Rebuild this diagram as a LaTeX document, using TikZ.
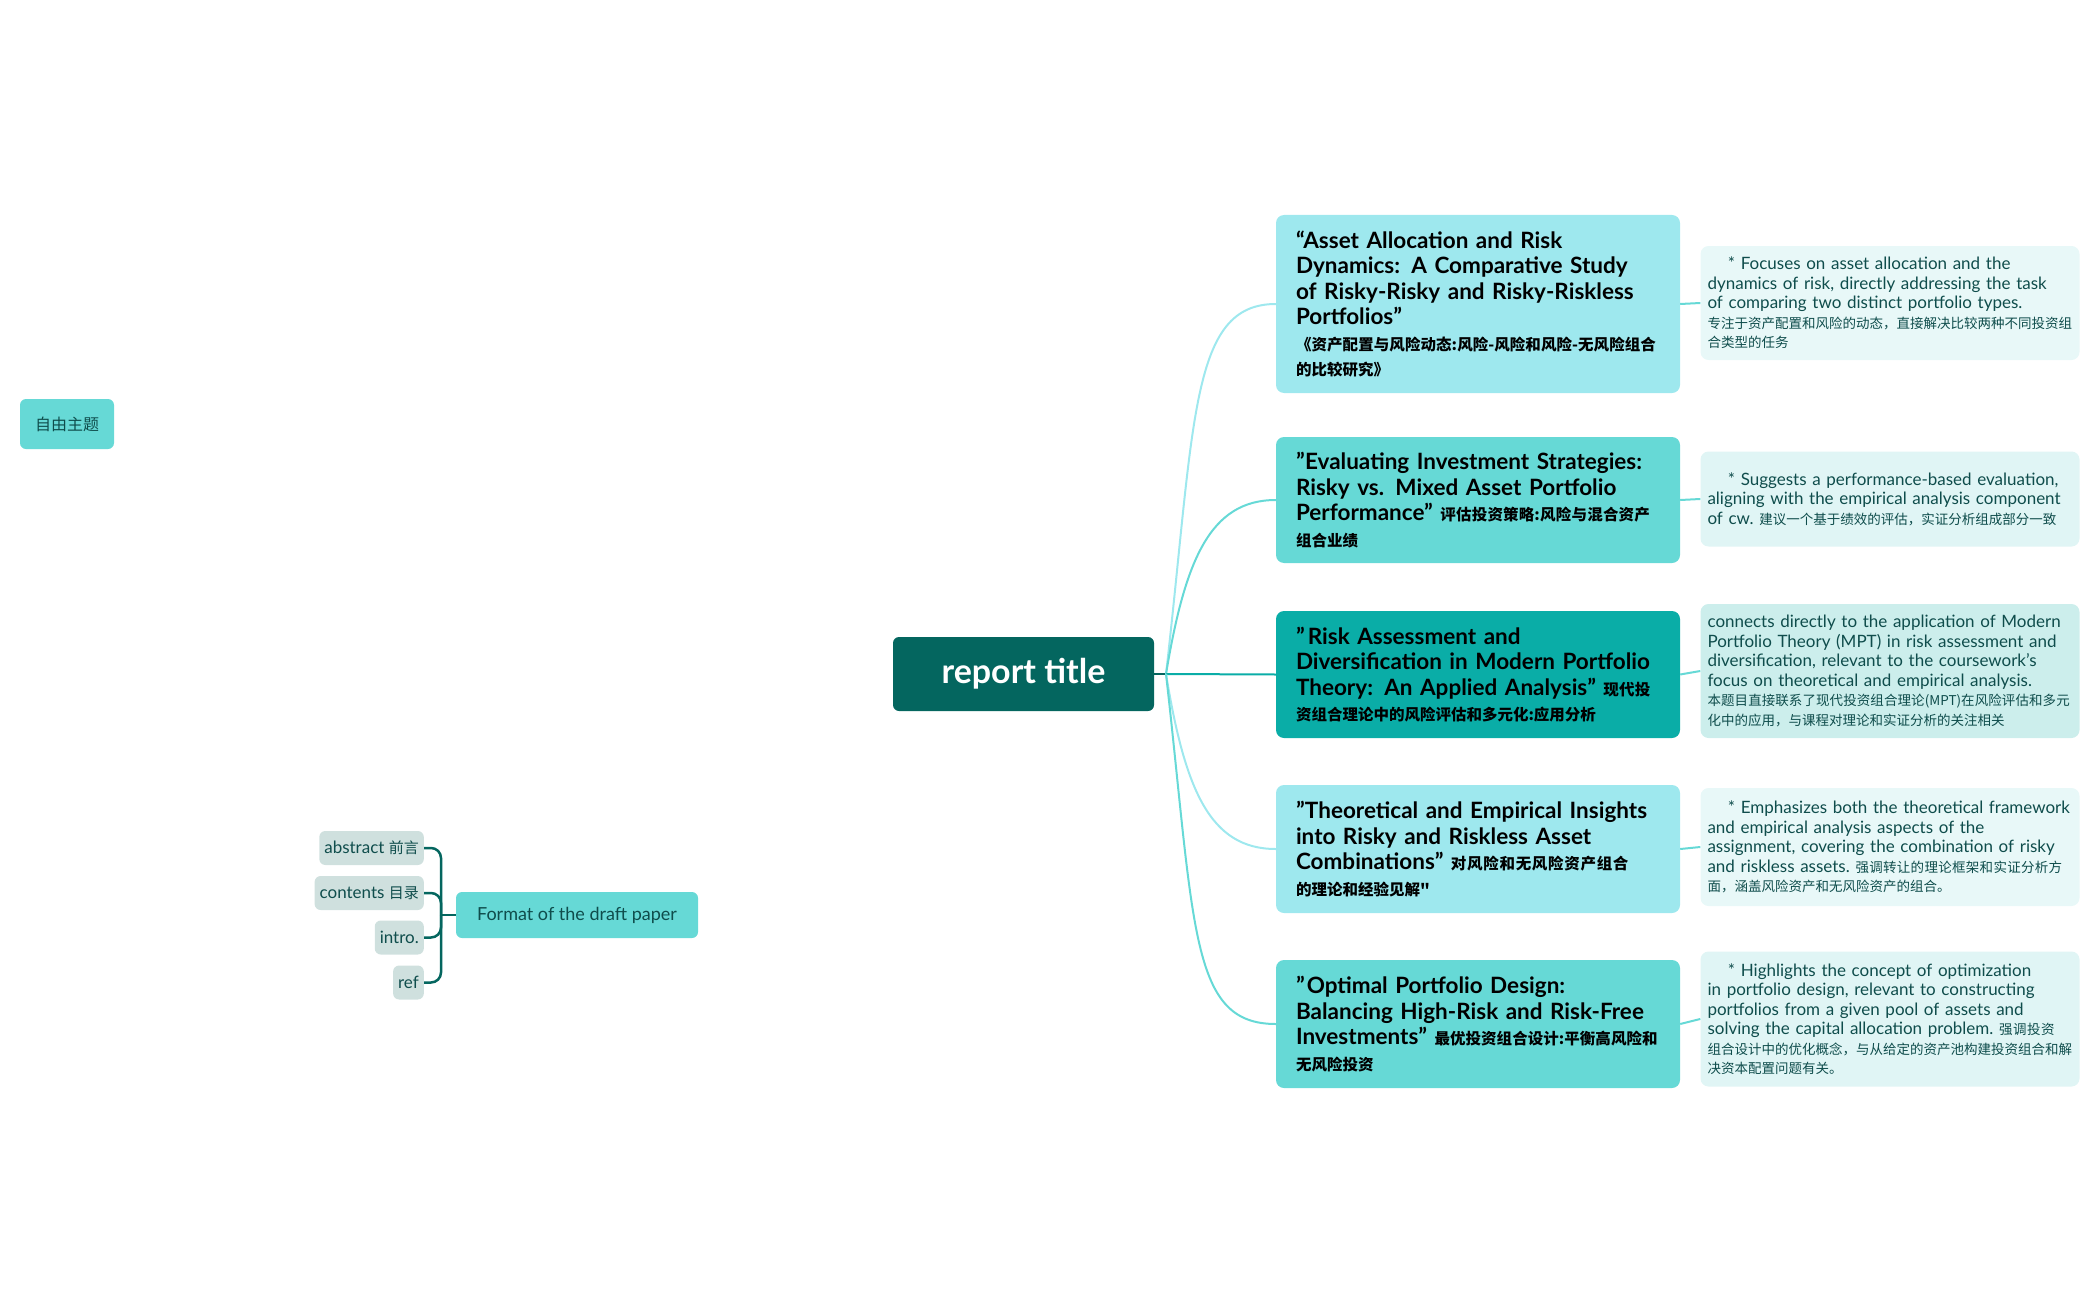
\documentclass[tikz,border=0pt]{standalone}
\usepackage{fontspec}
\setmainfont{Lato}
\newfontfamily\cjk{Noto Sans CJK SC}
\XeTeXlinebreaklocale "zh"
\XeTeXlinebreakskip=0pt plus 1pt
\hyphenpenalty=10000 \exhyphenpenalty=10000
\definecolor{txt}{HTML}{0F4D4C}
\definecolor{cA}{HTML}{9EE8EE}
\definecolor{cB}{HTML}{66D9D6}
\definecolor{cC}{HTML}{0AADA7}
\definecolor{cM}{HTML}{04665F}
\definecolor{nA}{HTML}{E8F8F8}
\definecolor{nB}{HTML}{E0F5F5}
\definecolor{nC}{HTML}{CCEEEC}
\definecolor{gr}{HTML}{CFE0DE}
\tikzset{
 topic/.style={rounded corners=8pt,text width=364pt,inner xsep=20pt,align=left,text=black,minimum height=#1,font=\fontsize{22.5}{25.5}\selectfont\bfseries},
 note/.style={rounded corners=8pt,text width=365pt,inner xsep=7pt,align=left,text=txt,minimum height=#1,font=\fontsize{17}{19.5}\selectfont},
 small/.style={rounded corners=6pt,fill=gr,text=txt,minimum height=34pt,inner xsep=5pt,font=\fontsize{17}{18}\selectfont},
 link/.style={line width=2pt},
}
\newcommand{\zh}[1]{{\cjk\fontsize{15.5}{25.5}\selectfont #1}}
\newcommand{\zn}[1]{{\cjk\fontsize{13.5}{19.5}\selectfont #1}}
\begin{document}
\begin{tikzpicture}[x=1pt,y=-1pt]
\useasboundingbox (0,0) rectangle (2098,1300);
\node[fill=cM,text=white,rounded corners=6pt,minimum width=261pt,minimum height=74pt,font=\fontsize{34}{36}\selectfont\bfseries] (root) at (1023.5,674) {report title};
\node[fill=cB,text=txt,rounded corners=6pt,minimum width=94pt,minimum height=50pt,font=\cjk\fontsize{16}{18}\selectfont] (free) at (67,424) {自由主题};

\node[topic=178pt,fill=cA] (t1) at (1478,304) {“Asset Allocation and Risk Dynamics: A Comparative Study of Risky-Risky and Risky-Riskless Portfolios”\\ \zh{《资产配置与风险动态:风险-风险和风险-无风险组合的比较研究》}};
\node[topic=126pt,fill=cB] (t2) at (1478,500) {"Evaluating Investment Strategies: Risky vs. Mixed Asset Portfolio Performance" \zh{评估投资策略:风险与混合资产组合业绩}};
\node[topic=127pt,fill=cC] (t3) at (1478,674.5) {"Risk Assessment and Diversification in Modern Portfolio Theory: An Applied Analysis" \zh{现代投资组合理论中的风险评估和多元化:应用分析}};
\node[topic=128pt,fill=cA] (t4) at (1478,849) {"Theoretical and Empirical Insights into Risky and Riskless Asset Combinations" \zh{对风险和无风险资产组合的理论和经验见解"}};
\node[topic=128pt,fill=cB] (t5) at (1478,1024) {"Optimal Portfolio Design: Balancing High-Risk and Risk-Free Investments" \zh{最优投资组合设计:平衡高风险和无风险投资}};

\node[note=114pt,fill=nA] (n1) at (1890,303) {\hspace*{1.2em}* Focuses on asset allocation and the dynamics of risk, directly addressing the task of comparing two distinct portfolio types.\\ \zn{专注于资产配置和风险的动态，直接解决比较两种不同投资组合类型的任务}};
\node[note=95pt,fill=nB] (n2) at (1890,499) {\hspace*{1.2em}* Suggests a performance-based evaluation, aligning with the empirical analysis component of cw.\ \zn{建议一个基于绩效的评估，实证分析组成部分一致}};
\node[note=134pt,fill=nC] (n3) at (1890,671) {connects directly to the application of Modern Portfolio Theory (MPT) in risk assessment and diversification, relevant to the coursework's focus on theoretical and empirical analysis.\\ \zn{本题目直接联系了现代投资组合理论(MPT)在风险评估和多元化中的应用，与课程对理论和实证分析的关注相关}};
\node[note=118pt,fill=nA] (n4) at (1890,847) {\hspace*{1.2em}* Emphasizes both the theoretical framework and empirical analysis aspects of the assignment, covering the combination of risky and riskless assets.\ \zn{强调转让的理论框架和实证分析方面，涵盖风险资产和无风险资产的组合。}};
\node[note=135pt,fill=nB] (n5) at (1890,1019) {\hspace*{1.2em}* Highlights the concept of optimization in portfolio design, relevant to constructing portfolios from a given pool of assets and solving the capital allocation problem.\ \zn{强调投资组合设计中的优化概念，与从给定的资产池构建投资组合和解决资本配置问题有关。}};

\coordinate (hub) at (1166,674);
\draw[link,cM] (root.east) -- (hub);
\draw[link,cA] (hub) .. controls (1195,420) and (1190,304) .. (t1.west);
\draw[link,cB] (hub) .. controls (1185,560) and (1210,500) .. (t2.west);
\draw[link,cC] (hub) -- (t3.west);
\draw[link,cA] (hub) .. controls (1185,790) and (1210,849) .. (t4.west);
\draw[link,cB] (hub) .. controls (1195,930) and (1190,1024) .. (t5.west);
\foreach \i in {1,...,5}{\draw[link,cB] (t\i.east) -- (n\i.west);}

\node[fill=cB,text=txt,rounded corners=6pt,minimum width=242pt,minimum height=46pt,font=\fontsize{18}{20}\selectfont] (fmt) at (577,915) {Format of the draft paper};
\node[small,anchor=east] (s1) at (424,848) {abstract \cjk\fontsize{15}{16}\selectfont 前言};
\node[small,anchor=east] (s2) at (424,893) {contents \cjk\fontsize{15}{16}\selectfont 目录};
\node[small,anchor=east] (s3) at (424,937.5) {intro.};
\node[small,anchor=east] (s4) at (424,982.5) {ref};
\coordinate (br) at (441,915);
\draw[line width=2.5pt,cM] (fmt.west) -- (br);
\foreach \i in {1,...,4}{\draw[line width=2.5pt,cM,rounded corners=10pt] (s\i.east) -| (br);}
\end{tikzpicture}
\end{document}
